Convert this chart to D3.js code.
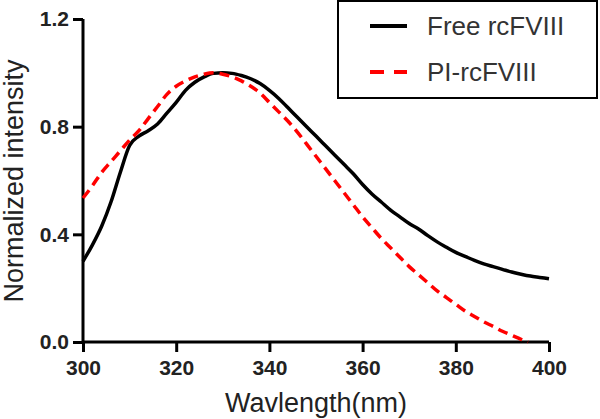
<!DOCTYPE html>
<html><head><meta charset="utf-8">
<script src="https://cdn.jsdelivr.net/npm/d3@7"></script>
<style>
html,body{margin:0;padding:0;background:#fff;}
svg{display:block;font-family:Arial,"Liberation Sans",sans-serif;}
</style></head>
<body><svg id="c" width="600" height="419"></svg>
<script>
const wavelength = [300,302,304,306,308,310,312,314,316,318,320,322,324,326,328,330,332,334,336,338,340,342,344,346,348,350,352,354,356,358,360,362,364,366,368,370,372,374,376,378,380,382,384,386,388,390,392,394,396,398,400];
const freeRcFVIII = [0.30,0.36,0.43,0.52,0.63,0.73,0.765,0.785,0.81,0.85,0.89,0.935,0.965,0.985,0.998,1.0,0.998,0.99,0.978,0.96,0.935,0.905,0.87,0.835,0.80,0.765,0.73,0.695,0.66,0.625,0.585,0.55,0.52,0.49,0.465,0.44,0.42,0.395,0.372,0.352,0.333,0.318,0.303,0.29,0.28,0.27,0.26,0.252,0.245,0.24,0.235];
const wavelengthPI = [300,302,304,306,308,310,312,314,316,318,320,322,324,326,328,330,332,334,336,338,340,342,344,346,348,350,352,354,356,358,360,362,364,366,368,370,372,374,376,378,380,382,384,386,388,390,392,394,395.5];
const piRcFVIII = [0.535,0.58,0.63,0.67,0.71,0.75,0.785,0.83,0.875,0.92,0.95,0.97,0.985,0.995,1.0,0.995,0.985,0.97,0.95,0.925,0.89,0.855,0.82,0.78,0.735,0.69,0.645,0.60,0.555,0.51,0.465,0.425,0.385,0.35,0.315,0.28,0.25,0.22,0.19,0.165,0.14,0.115,0.095,0.075,0.058,0.04,0.025,0.01,0.0];
const xTicks = [300,320,340,360,380,400];
const yTicks = [0.0,0.4,0.8,1.2];
const seriesNames = ["Free rcFVIII","PI-rcFVIII"];
const seriesColors = ["#000000","#ff0000"];

const svg = d3.select("#c");
const x = d3.scaleLinear().domain([300,400]).range([83,549]);
const y = d3.scaleLinear().domain([0,1.2]).range([342,19]);

// axes
const xAxis = svg.append("g").attr("transform","translate(0,342)")
  .call(d3.axisBottom(x).tickValues(xTicks).tickSize(10).tickPadding(8).tickFormat(d3.format("d")));
const yAxis = svg.append("g").attr("transform","translate(83,0)")
  .call(d3.axisLeft(y).tickValues(yTicks).tickSize(10).tickPadding(4).tickFormat(d3.format(".1f")));
[xAxis,yAxis].forEach(g=>{
  g.select(".domain").attr("stroke","#000").attr("stroke-width",3);
  g.selectAll(".tick line").attr("stroke","#000").attr("stroke-width",3);
  g.selectAll(".tick text").attr("fill","#222").attr("font-size",21).attr("font-weight","bold")
   .attr("font-family","Arial, 'Liberation Sans', sans-serif");
});
// remove default outer path shape extension
xAxis.select(".domain").attr("d",`M${x(300)},0H${x(400)}`);
yAxis.select(".domain").attr("d",`M0,${y(1.2)}V${y(0)}`);

// lines
const line = d3.line().x(d=>x(d[0])).y(d=>y(d[1])).curve(d3.curveMonotoneX);
svg.append("path").datum(wavelength.map((w,i)=>[w,freeRcFVIII[i]]))
  .attr("d",line).attr("fill","none").attr("stroke",seriesColors[0]).attr("stroke-width",3.5);
svg.append("path").datum(wavelengthPI.map((w,i)=>[w,piRcFVIII[i]]))
  .attr("d",line).attr("fill","none").attr("stroke",seriesColors[1]).attr("stroke-width",3.5)
  .attr("stroke-dasharray","10,6");

// axis titles
svg.append("text").attr("x",316).attr("y",412).attr("text-anchor","middle")
  .attr("font-size",27).attr("fill","#222").text("Wavlength(nm)");
svg.append("text").attr("transform","translate(23,181) rotate(-90)").attr("text-anchor","middle")
  .attr("font-size",27).attr("fill","#222").text("Normalized intensity");

// legend
const lg = svg.append("g");
lg.append("rect").attr("x",338).attr("y",1).attr("width",259).attr("height",97)
  .attr("fill","#fff").attr("stroke","#000").attr("stroke-width",2);
const rows = [26,72];
seriesNames.forEach((n,i)=>{
  lg.append("line").attr("x1",370).attr("x2",407).attr("y1",rows[i]).attr("y2",rows[i])
    .attr("stroke",seriesColors[i]).attr("stroke-width",4)
    .attr("stroke-dasharray", i===1 ? "14,10" : null);
  lg.append("text").attr("x",427).attr("y",rows[i]+9).attr("font-size",26).attr("fill","#333").text(n);
});
</script></body></html>
